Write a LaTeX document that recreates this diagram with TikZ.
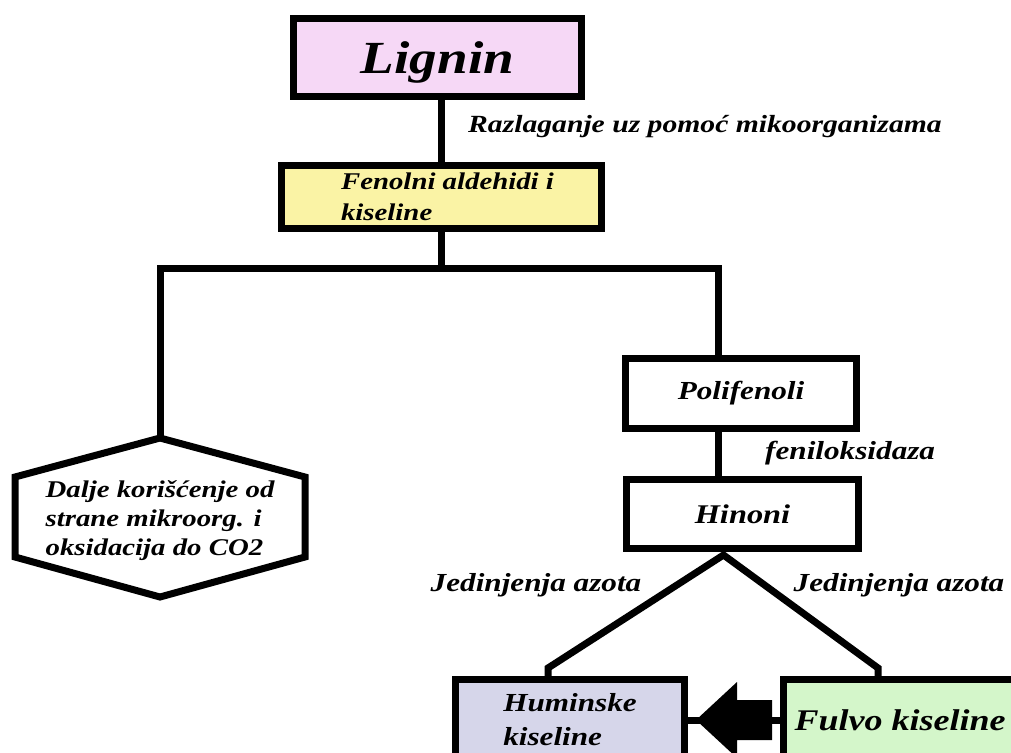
\documentclass[tikz,border=0pt]{standalone}
\usepackage{fontspec}
\setmainfont{Liberation Serif}[FakeStretch=1.2]
\usepackage{tikz}
\usetikzlibrary{calc}

\definecolor{ligninpink}{RGB}{246,216,246}
\definecolor{fenolyellow}{RGB}{250,243,165}
\definecolor{huminblue}{RGB}{214,214,234}
\definecolor{fulvogreen}{RGB}{212,246,202}

\tikzset{
  box/.style={draw=black, line width=7pt, inner sep=0pt, align=left},
  conn/.style={draw=black, line width=7pt},
  lbl/.style={inner sep=0pt, font=\bfseries\itshape\fontsize{26}{30}\selectfont},
}

\begin{document}
\begin{tikzpicture}[x=1pt, y=-1pt]
    \path[use as bounding box] (0,0) rectangle (1011,752);
    \clip (0,0) rectangle (1011,752);
    % boxes
    \node [box, fill=ligninpink, minimum width=288pt, minimum height=78pt, text depth=0pt,
           font=\bfseries\itshape\fontsize{46}{50}\selectfont] (lignin) at (437.5,57.5) {Lignin};
    \node [box, fill=fenolyellow, minimum width=320pt, minimum height=63pt,
           font=\bfseries\itshape\fontsize{24}{31}\selectfont] (fenol) at (441.5,197) {\hspace*{12pt}Fenolni aldehidi i\\\hspace*{12pt}kiseline};
    \node [box, fill=white, minimum width=231pt, minimum height=70pt,
           font=\bfseries\itshape\fontsize{26}{30}\selectfont] (poli) at (741,393.5) {Polifenoli};
    \node [box, fill=white, minimum width=232pt, minimum height=69pt,
           font=\bfseries\itshape\fontsize{27}{30}\selectfont] (hinoni) at (742.5,514) {Hinoni};
    \node [box, fill=huminblue, minimum width=229pt, minimum height=81pt,
           font=\bfseries\itshape\fontsize{26}{34}\selectfont] (humin) at (570,720) {Huminske\\kiseline};
    \node [box, fill=fulvogreen, minimum width=233pt, minimum height=81pt,
           font=\bfseries\itshape\fontsize{30}{34}\selectfont] (fulvo) at (900,720) {Fulvo kiseline};
    % hexagon
    \node [inner sep=0pt, align=left, font=\bfseries\itshape\fontsize{24}{29}\selectfont]
          (dalje) at (160,521) {Dalje korišćenje od\\strane mikroorg. i\\oksidacija do CO2};
    \coordinate (hextop) at ($(dalje)+(0,-83)$);
    \draw [conn] (hextop) -- ($(dalje)+(145,-44)$) -- ($(dalje)+(145,36)$) -- ($(dalje)+(0,76)$)
          -- ($(dalje)+(-145,36)$) -- ($(dalje)+(-145,-44)$) -- cycle;
    % connectors
    \coordinate (split) at ($(fenol.south)+(0,36)$);
    \coordinate (polijoin) at ($(poli.north)+(-23,0)$);
    \coordinate (hinjoin) at ($(hinoni.south)+(-19,3)$);
    \draw [conn] (fenol.north |- lignin.south) -- (fenol.north);      % lignin to fenoli
    \draw [conn] (fenol.south) -- (split);                              % down to the split
    \draw [conn] (hextop) |- (split) -| (polijoin);                     % left and right branch
    \draw [conn] (polijoin |- poli.south) -- (polijoin |- hinoni.north);
    \draw [conn] ($(humin.north)+(-22,0)$) -- ++(0,-8) -- (hinjoin)
          -- ($(fulvo.north)+(-22,-8)$) -- ++(0,8);
    % fat arrow fulvo to humin
    \coordinate (tip) at ($(humin.east)+(8,0)$);
    \draw [conn] (fulvo.west) -- (humin.east);
    \fill [black] (tip) -- ++(41,-38) -- ++(0,18) -- ++(35,0) -- ++(0,40)
          -- ++(-35,0) -- ++(0,18) -- cycle;
    % labels
    \node [lbl, font=\bfseries\itshape\fontsize{24.7}{30}\selectfont, right] (razl) at (468,127) {Razlaganje uz pomoć mikoorganizama};
    \node [lbl, right] (fenil) at (765,453) {feniloksidaza};
    \node [lbl] (azotl) at (536,585) {Jedinjenja azota};
    \node [lbl] (azotr) at (899,585) {Jedinjenja azota};
\end{tikzpicture}
\end{document}
